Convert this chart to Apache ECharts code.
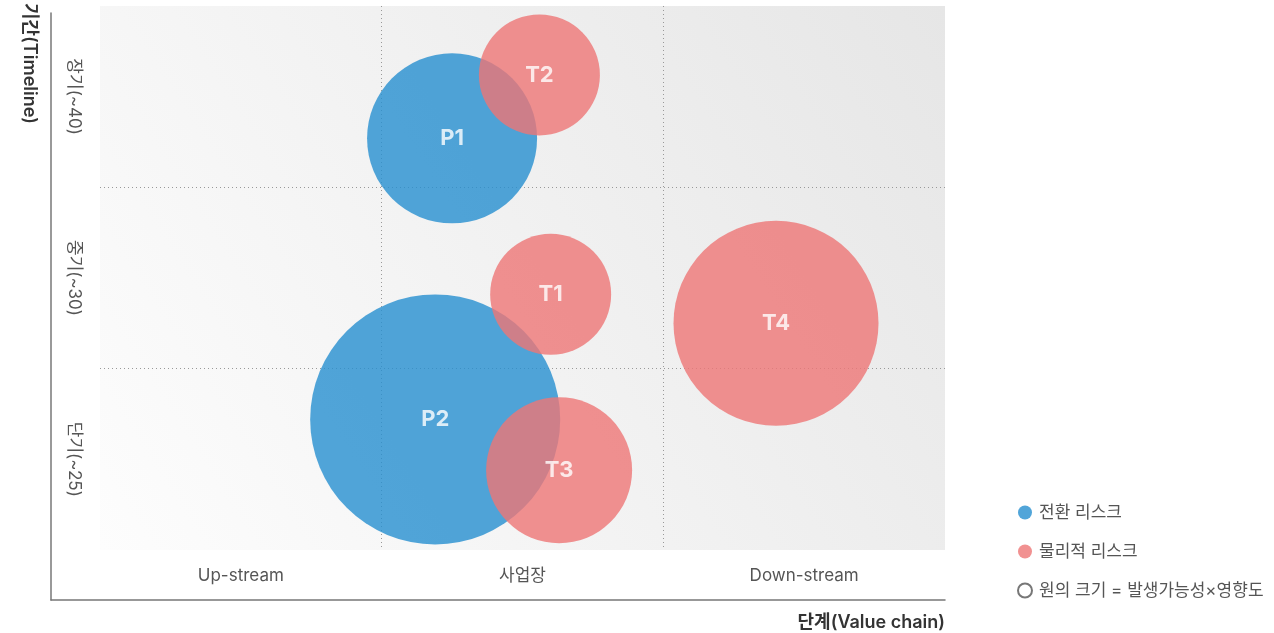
<!DOCTYPE html>
<html>
<head>
<meta charset="utf-8">
<script src="https://cdn.jsdelivr.net/npm/echarts@6/dist/echarts.min.js"></script>
<style>
  html, body { margin: 0; padding: 0; background: #fff; }
  #chart { width: 1274px; height: 633px; }
</style>
</head>
<body>
<div id="chart"></div>
<script>
// 축 라벨
var stages = ['Up-stream', '사업장', 'Down-stream'];
var periods = ['단기(~25)', '중기(~30)', '장기(~40)'];

// 전환 리스크 (x: 단계, y: 기간, size: 발생가능성×영향도)
var transNames = ['P1', 'P2'];
var transX = [1.25, 1.19];
var transY = [2.27, 0.72];
var transSize = [17, 25];

// 물리적 리스크
var physNames = ['T1', 'T2', 'T3', 'T4'];
var physX = [1.60, 1.56, 1.63, 2.40];
var physY = [1.41, 2.62, 0.44, 1.25];
var physSize = [12.1, 12.1, 14.6, 20.5];

var FONT = 'Inter, "Noto Sans CJK KR", sans-serif';

function toData(names, xs, ys, sizes) {
  return names.map(function (n, i) {
    return { name: n, value: [xs[i], ys[i], sizes[i]] };
  });
}

var chart = echarts.init(document.getElementById('chart'));

var bubbleLabel = {
  show: true,
  formatter: '{b}',
  color: '#fff',
  fontSize: 22,
  fontWeight: 'bold',
  fontFamily: FONT
};

var option = {
  animation: false,
  textStyle: { fontFamily: FONT },
  grid: [
    {
      left: 100, right: 329, top: 6, bottom: 83,
      show: true, borderWidth: 0,
      backgroundColor: new echarts.graphic.LinearGradient(0, 1, 1, 0, [
        { offset: 0, color: '#fdfdfd' },
        { offset: 1, color: '#e6e6e6' }
      ])
    },
    { left: 51, right: 329, top: 5, bottom: 33 }
  ],
  legend: {
    orient: 'vertical',
    left: 1012,
    top: 499,
    itemGap: 22,
    itemWidth: 18,
    itemHeight: 14,
    icon: 'circle',
    textStyle: { fontSize: 17, color: '#555', fontFamily: FONT },
    data: ['전환 리스크', '물리적 리스크', '원의 크기 = 발생가능성×영향도']
  },
  xAxis: [
    {
      type: 'value', gridIndex: 0, min: 0, max: 3, interval: 1,
      axisLine: { show: false }, axisTick: { show: false }, axisLabel: { show: false },
      splitLine: { show: true, showMinLine: false, showMaxLine: false,
        lineStyle: { type: [1, 3], color: '#999', width: 1 } }
    },
    {
      type: 'category', gridIndex: 0, position: 'bottom', data: stages,
      axisLine: { show: false }, axisTick: { show: false }, splitLine: { show: false },
      axisLabel: { margin: 17, fontSize: 17, color: '#555' }
    },
    {
      type: 'value', gridIndex: 1, min: 0, max: 1,
      axisLine: { show: true, lineStyle: { color: '#777', width: 1.5 } },
      axisTick: { show: false }, axisLabel: { show: false }, splitLine: { show: false },
      name: '단계(Value chain)', nameLocation: 'end', nameGap: 0,
      nameTextStyle: { fontSize: 18, fontWeight: 600, color: '#333',
        align: 'right', verticalAlign: 'top', padding: [14, 0, 0, 0] }
    }
  ],
  yAxis: [
    {
      type: 'value', gridIndex: 0, min: 0, max: 3, interval: 1,
      axisLine: { show: false }, axisTick: { show: false }, axisLabel: { show: false },
      splitLine: { show: true, showMinLine: false, showMaxLine: false,
        lineStyle: { type: [1, 3], color: '#999', width: 1 } }
    },
    {
      type: 'category', gridIndex: 0, position: 'left', data: periods,
      axisLine: { show: false }, axisTick: { show: false }, splitLine: { show: false },
      axisLabel: { margin: 17, fontSize: 17, color: '#555', rotate: -90 }
    },
    {
      type: 'value', gridIndex: 1, min: 0, max: 1,
      axisLine: { show: true, lineStyle: { color: '#777', width: 1.5 } },
      axisTick: { show: false }, axisLabel: { show: false }, splitLine: { show: false },
      name: '기간(Timeline)', nameLocation: 'end', nameGap: 10, nameRotate: -90,
      nameTextStyle: { fontSize: 18, fontWeight: 600, color: '#333',
        align: 'left', verticalAlign: 'top', padding: [13, 0, 0, 0] }
    }
  ],
  series: [
    {
      name: '전환 리스크',
      type: 'scatter',
      xAxisIndex: 0, yAxisIndex: 0,
      data: toData(transNames, transX, transY, transSize),
      symbolSize: function (v) { return v[2] * 10; },
      itemStyle: { color: 'rgb(38,143,207)', opacity: 0.8 },
      label: bubbleLabel
    },
    {
      name: '물리적 리스크',
      type: 'scatter',
      xAxisIndex: 0, yAxisIndex: 0,
      data: toData(physNames, physX, physY, physSize),
      symbolSize: function (v) { return v[2] * 10; },
      itemStyle: { color: 'rgb(238,118,118)', opacity: 0.8 },
      label: bubbleLabel
    },
    {
      name: '원의 크기 = 발생가능성×영향도',
      type: 'scatter',
      xAxisIndex: 0, yAxisIndex: 0,
      data: [],
      itemStyle: { color: '#fff', borderColor: '#555', borderWidth: 1.5 }
    }
  ]
};

chart.setOption(option);
</script>
</body>
</html>
